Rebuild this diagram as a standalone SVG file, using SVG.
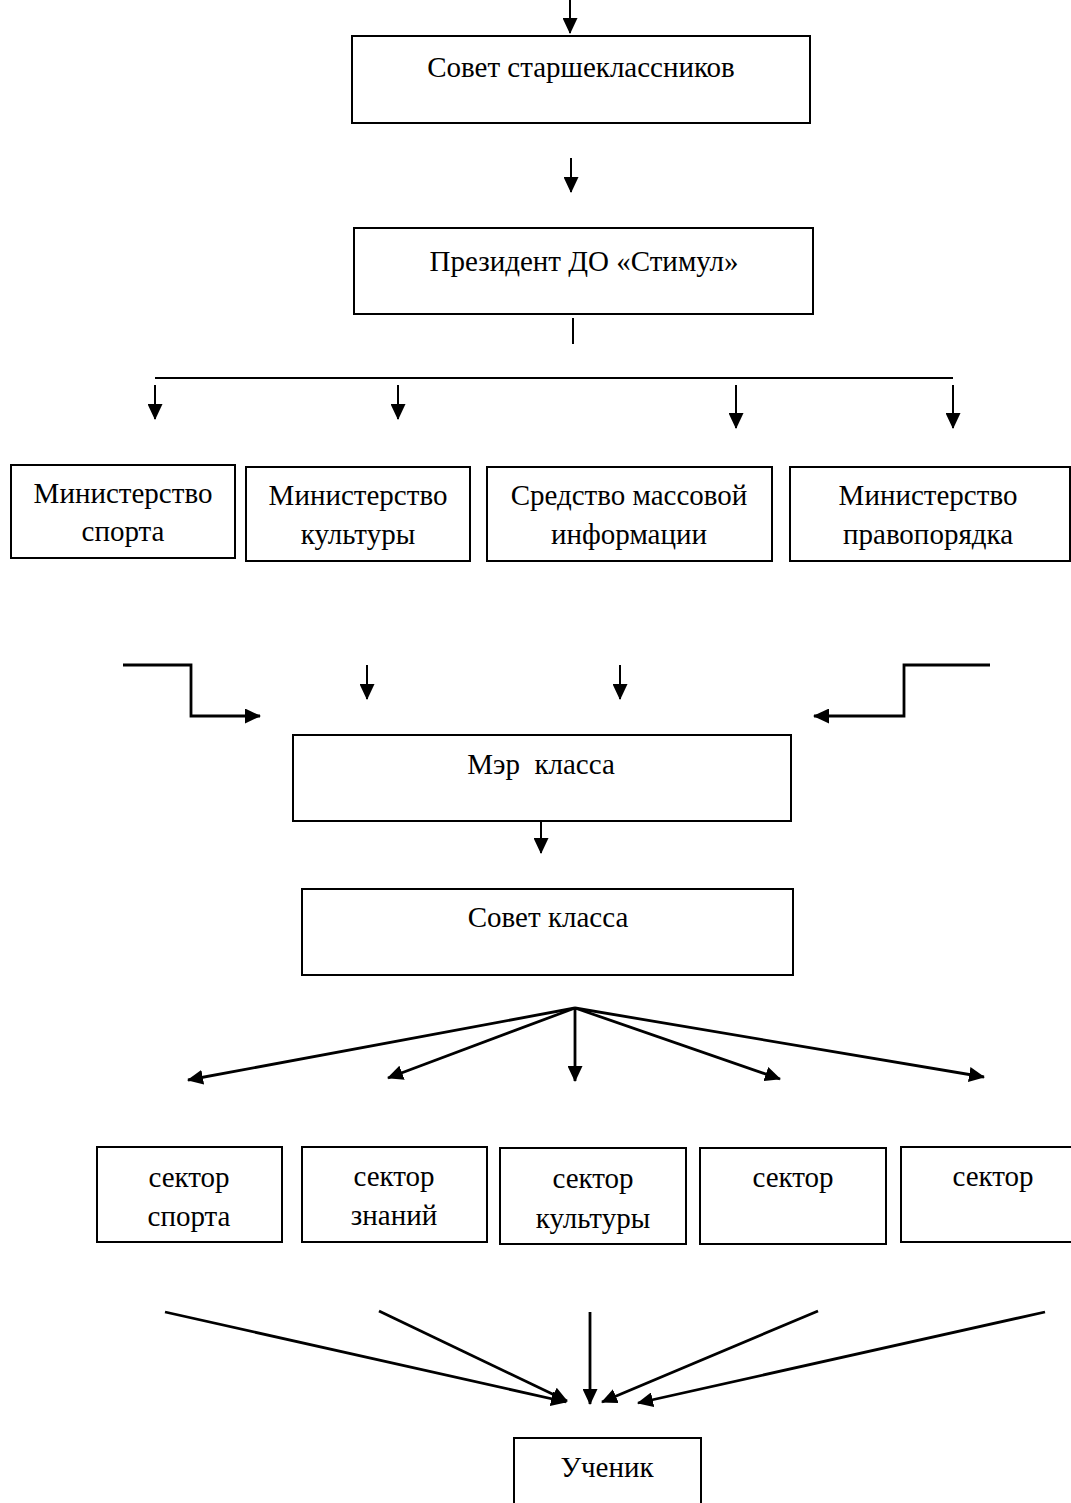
<svg xmlns="http://www.w3.org/2000/svg" width="1071" height="1503" viewBox="0 0 1071 1503">
<style>
.box{fill:#fff;stroke:#000;stroke-width:2}
.t{font-family:"Liberation Serif","Times New Roman",serif;font-size:29px;fill:#000;text-anchor:middle}
.c{fill:none;stroke:#000;stroke-width:2}
.a{fill:none;stroke:#000;stroke-width:2;marker-end:url(#ah)}
.b{fill:none;stroke:#000;stroke-width:2.8;marker-end:url(#ah)}
</style>
<defs>
<marker id="ah" markerUnits="userSpaceOnUse" markerWidth="16" markerHeight="15" refX="15" refY="7.5" orient="auto">
<path d="M0,0 L16,7.5 L0,15 Z" fill="#000"/>
</marker>
</defs>
<rect width="1071" height="1503" fill="#fff"/>
<g id="connectors">
<line class="a" x1="570" y1="0" x2="570" y2="33"/>
<line class="a" x1="571" y1="158" x2="571" y2="192"/>
<line class="c" x1="573" y1="318" x2="573" y2="344"/>
<line class="c" x1="155" y1="378" x2="953" y2="378"/>
<line class="a" x1="155" y1="385" x2="155" y2="419"/>
<line class="a" x1="398" y1="385" x2="398" y2="419"/>
<line class="a" x1="736" y1="385" x2="736" y2="428"/>
<line class="a" x1="953" y1="385" x2="953" y2="428"/>
<polyline class="b" points="123,665 191,665 191,716 260,716"/>
<polyline class="b" points="990,665 904,665 904,716 814,716"/>
<line class="a" x1="367" y1="665" x2="367" y2="699"/>
<line class="a" x1="620" y1="665" x2="620" y2="699"/>
<line class="a" x1="541" y1="821" x2="541" y2="853"/>
<line class="b" x1="575" y1="1008" x2="188" y2="1080"/>
<line class="b" x1="575" y1="1008" x2="388" y2="1078"/>
<line class="b" x1="575" y1="1008" x2="575" y2="1081"/>
<line class="b" x1="575" y1="1008" x2="780" y2="1079"/>
<line class="b" x1="575" y1="1008" x2="984" y2="1077"/>
<line class="b" x1="165" y1="1312" x2="566" y2="1402"/>
<line class="b" x1="379" y1="1311" x2="567" y2="1401"/>
<line class="b" x1="590" y1="1312" x2="590" y2="1404"/>
<line class="b" x1="818" y1="1311" x2="602" y2="1402"/>
<line class="b" x1="1045" y1="1312" x2="638" y2="1403"/>
</g>
<g id="n1"><rect class="box" x="352" y="36" width="458" height="87"/><text class="t" x="581" y="77">Совет старшеклассников</text></g>
<g id="n2"><rect class="box" x="354" y="228" width="459" height="86"/><text class="t" x="584" y="271">Президент ДО «Стимул»</text></g>
<g id="n3"><rect class="box" x="11" y="465" width="224" height="93"/><text class="t" x="123" y="503">Министерство</text><text class="t" x="123" y="541">спорта</text></g>
<g id="n4"><rect class="box" x="246" y="467" width="224" height="94"/><text class="t" x="358" y="505">Министерство</text><text class="t" x="358" y="544">культуры</text></g>
<g id="n5"><rect class="box" x="487" y="467" width="285" height="94"/><text class="t" x="629" y="505">Средство массовой</text><text class="t" x="629" y="544">информации</text></g>
<g id="n6"><rect class="box" x="790" y="467" width="280" height="94"/><text class="t" x="928" y="505">Министерство</text><text class="t" x="928" y="544">правопорядка</text></g>
<g id="n7"><rect class="box" x="293" y="735" width="498" height="86"/><text class="t" x="541" y="774" xml:space="preserve">Мэр  класса</text></g>
<g id="n8"><rect class="box" x="302" y="889" width="491" height="86"/><text class="t" x="548" y="927">Совет класса</text></g>
<g id="n9"><rect class="box" x="97" y="1147" width="185" height="95"/><text class="t" x="189" y="1187">сектор</text><text class="t" x="189" y="1226">спорта</text></g>
<g id="n10"><rect class="box" x="302" y="1147" width="185" height="95"/><text class="t" x="394" y="1186">сектор</text><text class="t" x="394" y="1225">знаний</text></g>
<g id="n11"><rect class="box" x="500" y="1148" width="186" height="96"/><text class="t" x="593" y="1188">сектор</text><text class="t" x="593" y="1228">культуры</text></g>
<g id="n12"><rect class="box" x="700" y="1148" width="186" height="96"/><text class="t" x="793" y="1187">сектор</text></g>
<g id="n13"><rect class="box" x="901" y="1147" width="172" height="95"/><text class="t" x="993" y="1186">сектор</text></g>
<g id="n14"><rect class="box" x="514" y="1438" width="187" height="80"/><text class="t" x="607" y="1477">Ученик</text></g>
</svg>
